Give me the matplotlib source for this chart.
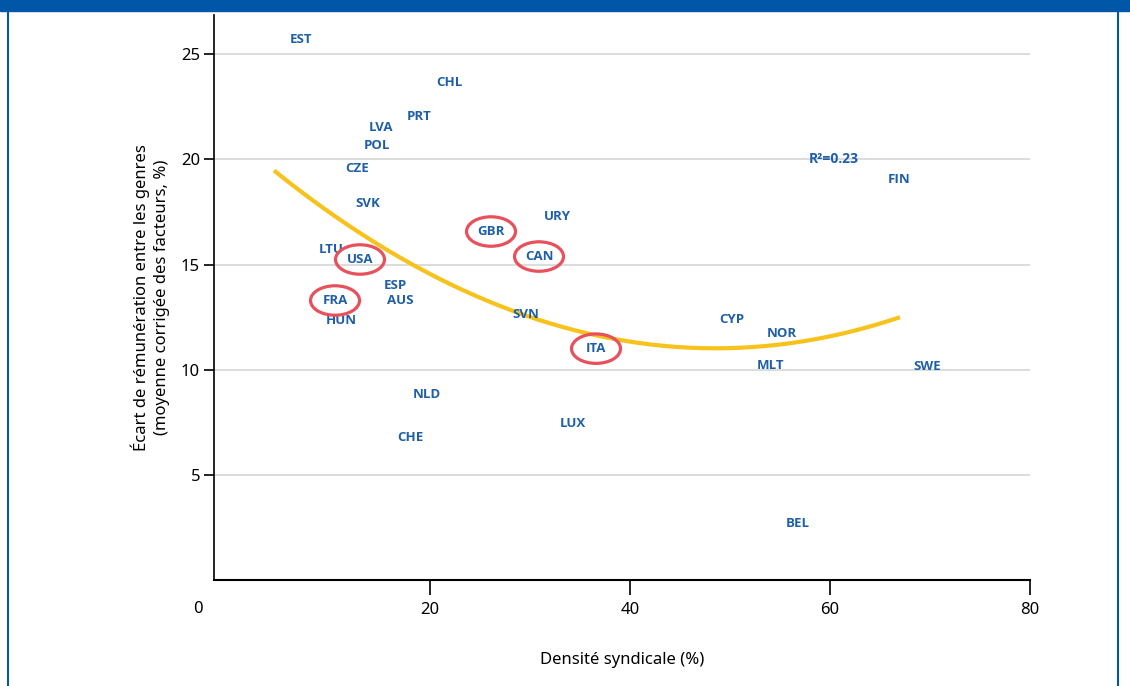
import numpy as np
import matplotlib.pyplot as plt
from matplotlib.patches import Ellipse
from matplotlib.transforms import blended_transform_factory

plt.rcParams['font.family'] = ['Noto Sans', 'DejaVu Sans']

# country codes and positions (union density %, gender pay gap %)
codes = ['EST', 'CHL', 'PRT', 'LVA', 'POL', 'CZE', 'SVK', 'LTU', 'USA', 'GBR',
         'URY', 'CAN', 'ESP', 'AUS', 'FRA', 'HUN', 'SVN', 'ITA', 'CYP', 'NOR',
         'MLT', 'SWE', 'FIN', 'BEL', 'NLD', 'CHE', 'LUX']
density = [7.1, 21.9, 18.9, 15.1, 14.7, 12.7, 13.8, 10.1, 13.0, 26.1,
           32.7, 30.9, 16.5, 17.0, 10.5, 11.1, 29.6, 36.6, 50.2, 55.2,
           54.0, 69.7, 66.9, 56.8, 19.7, 18.0, 34.3]
paygap = [25.7, 23.67, 22.05, 21.52, 20.67, 19.57, 17.9, 15.71, 15.24, 16.57,
          17.29, 15.38, 14.0, 13.29, 13.29, 12.33, 12.62, 11.0, 12.38, 11.71,
          10.19, 10.14, 19.05, 2.71, 8.81, 6.76, 7.43]
highlight = ['GBR', 'USA', 'CAN', 'FRA', 'ITA']

# points
trend_x = [4.4, 14.7, 18.3, 28.3, 40.0, 45.0, 55.0, 61.7, 67.0]
trend_y = [19.4, 16.14, 15.05, 12.57, 11.38, 11.05, 11.24, 11.86, 12.41]

blue = '#1f5fa8'
lab_font = ['Open Sans', 'DejaVu Sans']
fig = plt.figure(figsize=(11.3, 6.86), dpi=100)
ax = fig.add_axes([0.1894, 0.1545, 0.7221, 0.8235])

coef = np.polyfit(trend_x, trend_y, 2)
xs = np.linspace(trend_x[0], trend_x[-1], 200)
ax.plot(xs, np.polyval(coef, xs), color='#f8c21c', lw=3, zorder=2,
        solid_capstyle='butt')

for c, x, y in zip(codes, density, paygap):
    ax.text(x, y, c, color=blue, fontsize=9.5, fontweight='bold', family=lab_font,
            ha='center', va='center', zorder=3)
    if c in highlight:
        ax.add_patch(Ellipse((x, y), 4.9, 1.4, fill=False, ec='#e8505b',
                             lw=2.3, zorder=4))

ax.text(60.4, 20.0, 'R²=0.23', color=blue, fontsize=10, fontweight='bold',
        family=lab_font, ha='center', va='center')

ax.set_yticks([5, 10, 15, 20, 25])
ax.set_xticks([20, 40, 60, 80])
ax.set_xlim(-1.6, 80)
ax.set_ylim(0, 26.86)
# the "0" label sits left of the axis start, without a tick
ax.text(-3.2, -0.052, '0', fontsize=12, ha='center', va='center', clip_on=False,
        transform=blended_transform_factory(ax.transData, ax.transAxes))
ax.grid(axis='y', color='#d9d9d9', lw=1.3)
ax.set_axisbelow(True)
for s in ['top', 'right']:
    ax.spines[s].set_visible(False)
ax.spines['left'].set_linewidth(1.2)
ax.spines['bottom'].set_linewidth(1.5)
ax.tick_params(axis='x', length=11, width=1.2, pad=5, labelsize=12)
ax.tick_params(axis='y', length=7, width=1.2, pad=3, labelsize=12)

ax.set_xlabel('Densité syndicale (%)', fontsize=12, labelpad=24)
ax.set_ylabel('Écart de rémunération entre les genres\n(moyenne corrigée des facteurs, %)',
              fontsize=12, labelpad=8, linespacing=1.3)

# header bar and frame
fig.patches.append(plt.Rectangle((0, 0.984), 1, 0.016, transform=fig.transFigure,
                                 color='#0057a8', zorder=0))
fig.add_artist(plt.Line2D([0.0075, 0.0075], [0, 1], color='#0057a8', lw=1.5))
fig.add_artist(plt.Line2D([0.9893, 0.9893], [0, 1], color='#0057a8', lw=1.5))

fig.savefig('out.png', dpi=100)
